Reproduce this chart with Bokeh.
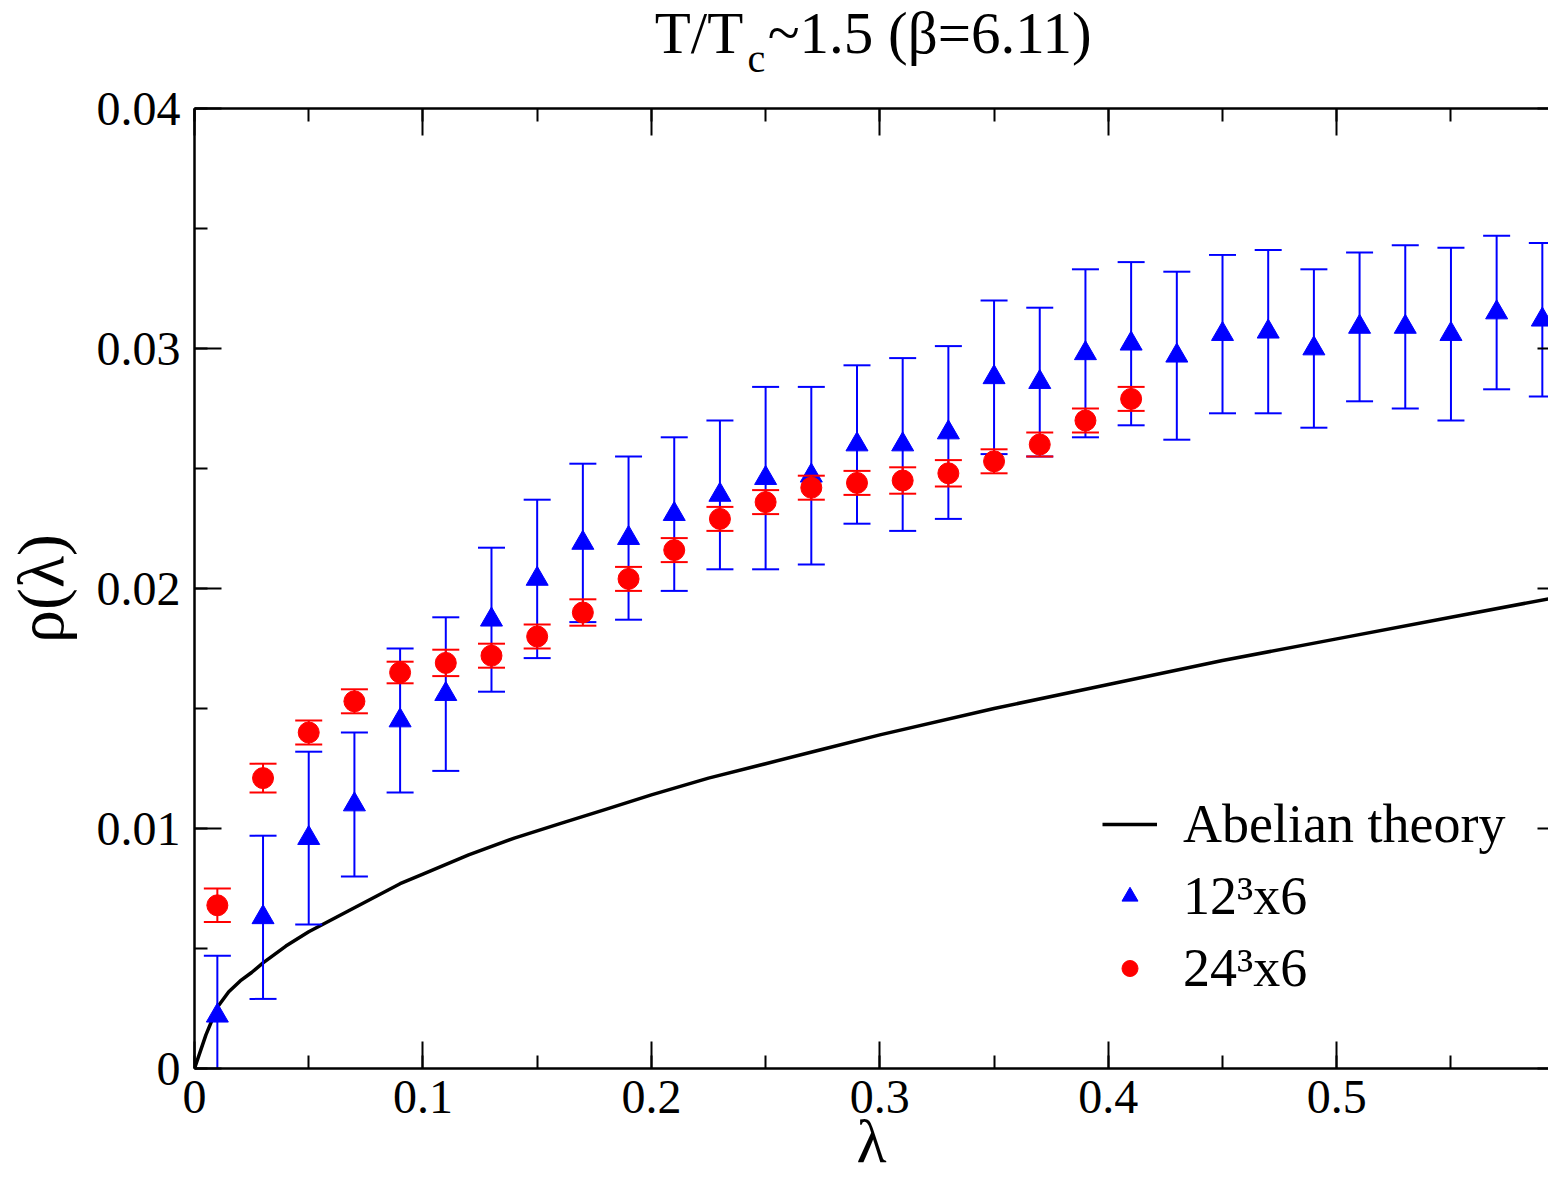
import numpy as np
from bokeh.plotting import figure
from bokeh.layouts import column
from bokeh.models import (ColumnDataSource, Range1d, LinearAxis, SingleIntervalTicker,
                          CustomJSTickFormatter, Label, Legend, LegendItem)
from bokeh.embed import file_html
from bokeh.resources import INLINE

FONT = "Liberation Serif"

# ---------------- data ----------------
theory_lambda = [0.0, 0.005, 0.01, 0.015, 0.02, 0.025, 0.03, 0.04, 0.05, 0.06, 0.07, 0.08,
                 0.09, 0.10, 0.12, 0.14, 0.16, 0.18, 0.20, 0.225, 0.25, 0.275, 0.30, 0.35,
                 0.40, 0.45, 0.50, 0.55, 0.60]
theory_rho = [0.0, 0.0014, 0.00255, 0.0032, 0.00365, 0.0040, 0.0044, 0.0051, 0.0057, 0.0062,
              0.0067, 0.0072, 0.0077, 0.0081, 0.0089, 0.0096, 0.0102, 0.0108, 0.0114, 0.0121,
              0.0127, 0.0133, 0.0139, 0.0150, 0.0160, 0.0170, 0.0179, 0.0188, 0.0197]

lam_12 = [0.01, 0.03, 0.05, 0.07, 0.09, 0.11, 0.13, 0.15, 0.17, 0.19, 0.21, 0.23, 0.25,
          0.27, 0.29, 0.31, 0.33, 0.35, 0.37, 0.39, 0.41, 0.43, 0.45, 0.47, 0.49, 0.51,
          0.53, 0.55, 0.57, 0.59]
rho_12 = [0.0022, 0.0063, 0.0096, 0.0110, 0.0145, 0.0156, 0.0187, 0.0204, 0.0219, 0.0221,
          0.0231, 0.0239, 0.0246, 0.0247, 0.0260, 0.0260, 0.0265, 0.0288, 0.0286, 0.0298,
          0.0302, 0.0297, 0.0306, 0.0307, 0.0300, 0.0309, 0.0309, 0.0306, 0.0315, 0.0312]
err_12 = [0.0025, 0.0034, 0.0036, 0.0030, 0.0030, 0.0032, 0.0030, 0.0033, 0.0033, 0.0034,
          0.0032, 0.0031, 0.0038, 0.0037, 0.0033, 0.0036, 0.0036, 0.0032, 0.0031, 0.0035,
          0.0034, 0.0035, 0.0033, 0.0034, 0.0033, 0.0031, 0.0034, 0.0036, 0.0032, 0.0032]

lam_24 = [0.01, 0.03, 0.05, 0.07, 0.09, 0.11, 0.13, 0.15, 0.17, 0.19, 0.21, 0.23, 0.25,
          0.27, 0.29, 0.31, 0.33, 0.35, 0.37, 0.39, 0.41]
rho_24 = [0.0068, 0.0121, 0.0140, 0.0153, 0.0165, 0.0169, 0.0172, 0.0180, 0.0190, 0.0204,
          0.0216, 0.0229, 0.0236, 0.0242, 0.0244, 0.0245, 0.0248, 0.0253, 0.0260, 0.0270,
          0.0279]
err_24 = [0.0007, 0.0006, 0.0005, 0.0005, 0.00045, 0.00055, 0.0005, 0.0005, 0.00055,
          0.0005, 0.0005, 0.0005, 0.0005, 0.0005, 0.0005, 0.00055, 0.00055, 0.0005,
          0.0005, 0.0005, 0.0005]

series_labels = ["Abelian theory", "12\u00b3x6", "24\u00b3x6"]

X_START, X_END = 0.0, 0.5927
W = 1548
H_TOP = 81
H_MAIN = 1178 - H_TOP

# ---------------- title strip (frame aligned with the main plot frame) ----------------
tf = figure(width=W, height=H_TOP, output_backend="svg", toolbar_location=None,
            x_range=Range1d(X_START, X_END), y_range=Range1d(0, H_TOP),
            x_axis_type=None, y_axis_type=None, min_border=0,
            min_border_left=192, min_border_right=0)
tf.outline_line_color = None
TITLE_MID = H_TOP - 32.5
tf.add_layout(Label(x=0.2015, y=TITLE_MID, text="T/T", text_font=FONT,
                    text_font_size="59px", text_baseline="middle", text_align="left",
                    text_color="black"))
tf.add_layout(Label(x=0.2421, y=H_TOP - (72 - 0.35 * 40), text="c", text_font=FONT,
                    text_font_size="40px", text_baseline="middle", text_align="left",
                    text_color="black"))
tf.add_layout(Label(x=0.2509, y=TITLE_MID, text="~1.5 (\u03b2=6.11)",
                    text_font=FONT, text_font_size="59px", text_baseline="middle",
                    text_align="left", text_color="black"))

# ---------------- main figure ----------------
p = figure(width=W, height=H_MAIN, output_backend="svg", toolbar_location=None,
           x_range=Range1d(X_START, X_END), y_range=Range1d(0, 0.04),
           x_axis_type=None, y_axis_type=None,
           min_border_left=192, min_border_right=0, min_border_top=27,
           min_border_bottom=110)
p.outline_line_color = None

xticker = SingleIntervalTicker(interval=0.1, num_minor_ticks=2)
yticker = SingleIntervalTicker(interval=0.01, num_minor_ticks=2)
fmt = CustomJSTickFormatter(code="return String(parseFloat(tick.toFixed(6)));")
blank = CustomJSTickFormatter(code="return '';")


def style_axis(ax):
    ax.axis_line_color = "black"
    ax.axis_line_width = 2.5
    ax.major_tick_in = 27
    ax.major_tick_out = 0
    ax.minor_tick_in = 13
    ax.minor_tick_out = 0
    ax.major_tick_line_width = 2
    ax.minor_tick_line_width = 2
    ax.major_tick_line_color = "black"
    ax.minor_tick_line_color = "black"
    ax.major_label_text_font = FONT
    ax.major_label_text_font_size = "48px"
    ax.major_label_text_color = "black"


xb = LinearAxis(ticker=xticker, formatter=fmt, major_label_standoff=12,
                axis_label="\u03bb", axis_label_standoff=-9,
                axis_label_text_font=FONT, axis_label_text_font_size="62px",
                axis_label_text_font_style="normal", axis_label_text_color="black")
style_axis(xb)
p.add_layout(xb, "below")

yl = LinearAxis(ticker=yticker, formatter=fmt, major_label_standoff=14,
                axis_label="\u03c1(\u03bb)", axis_label_standoff=17,
                axis_label_text_font=FONT, axis_label_text_font_size="66px",
                axis_label_text_font_style="normal", axis_label_text_color="black")
style_axis(yl)
p.add_layout(yl, "left")

xt = LinearAxis(ticker=xticker, formatter=blank, major_label_standoff=0)
style_axis(xt)
xt.major_label_text_font_size = "1px"
p.add_layout(xt, "above")

yr = LinearAxis(ticker=yticker, formatter=blank, major_label_standoff=0)
style_axis(yr)
yr.axis_line_color = None
yr.major_tick_in = 11
yr.minor_tick_in = 0
yr.major_label_text_font_size = "1px"
p.add_layout(yr, "right")

# ---------------- glyphs ----------------
src_t = ColumnDataSource(dict(x=theory_lambda, y=theory_rho))
r_theory = p.line("x", "y", source=src_t, line_color="black", line_width=3.5)

a12 = np.array(rho_12)
e12 = np.array(err_12)
src12 = ColumnDataSource(dict(x=lam_12, y=rho_12, lo=a12 - e12, hi=a12 + e12))
p.segment(x0="x", y0="lo", x1="x", y1="hi", source=src12, line_color="#0000ff", line_width=2)
p.scatter("x", "lo", marker="dash", size=27, line_color="#0000ff", line_width=2, source=src12)
p.scatter("x", "hi", marker="dash", size=27, line_color="#0000ff", line_width=2, source=src12)
r12 = p.scatter("x", "y", marker="triangle", size=22, fill_color="#0000ff",
                line_color="#0000ff", line_width=1, source=src12)

a24 = np.array(rho_24)
e24 = np.array(err_24)
src24 = ColumnDataSource(dict(x=lam_24, y=rho_24, lo=a24 - e24, hi=a24 + e24))
p.segment(x0="x", y0="lo", x1="x", y1="hi", source=src24, line_color="#ff0000", line_width=2)
p.scatter("x", "lo", marker="dash", size=27, line_color="#ff0000", line_width=2, source=src24)
p.scatter("x", "hi", marker="dash", size=27, line_color="#ff0000", line_width=2, source=src24)
r24 = p.scatter("x", "y", marker="circle", size=21, fill_color="#ff0000",
                line_color="#ff0000", line_width=1, source=src24)

# ---------------- legend ----------------
legend = Legend(items=[LegendItem(label=series_labels[0], renderers=[r_theory]),
                       LegendItem(label=series_labels[1], renderers=[r12]),
                       LegendItem(label=series_labels[2], renderers=[r24])],
                location=(908, 69), orientation="vertical",
                label_text_font=FONT, label_text_font_size="54px", label_text_color="black",
                label_standoff=26, glyph_width=55, glyph_height=40, label_height=60,
                spacing=10, padding=0, margin=0,
                border_line_color=None, background_fill_alpha=0)
p.add_layout(legend)

layout = column(tf, p, spacing=0)
open("out.html", "w").write(file_html(layout, INLINE))
